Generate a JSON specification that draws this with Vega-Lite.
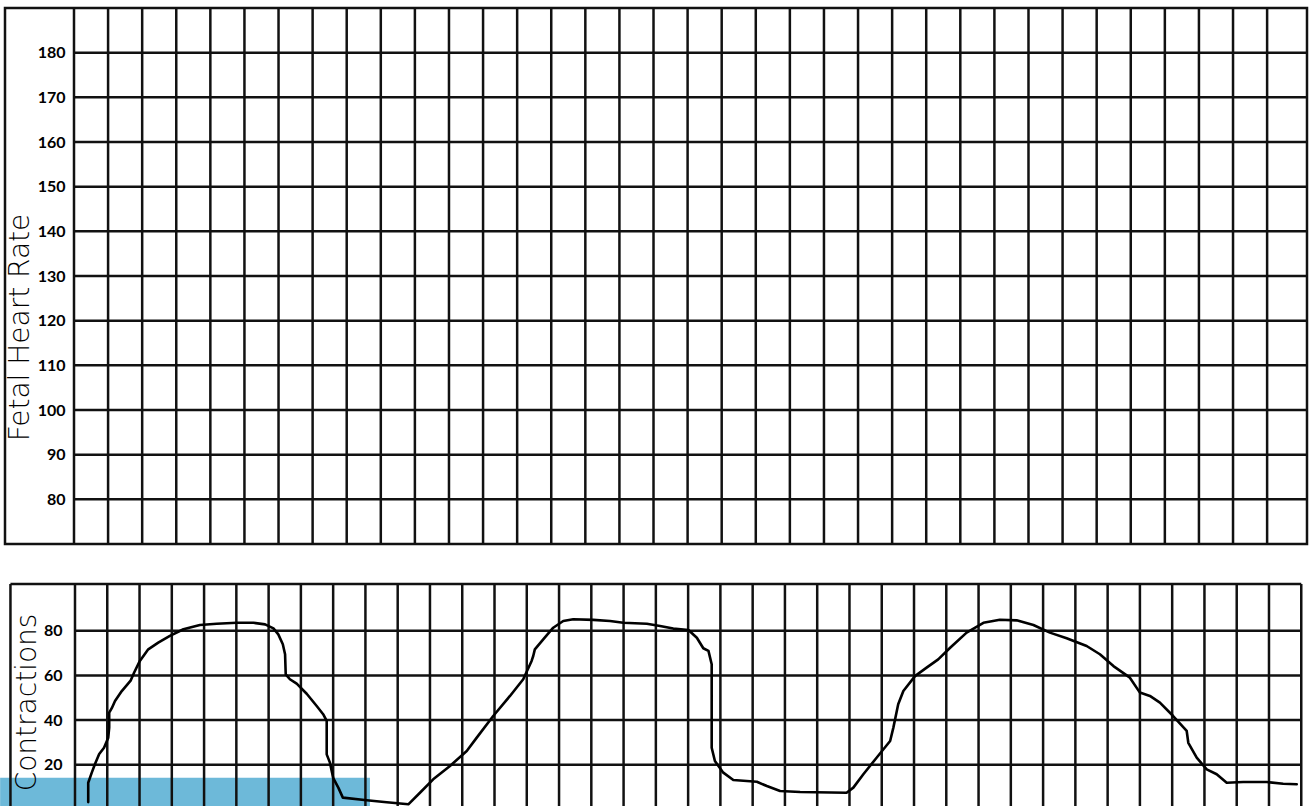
{
  "$schema": "https://vega.github.io/schema/vega-lite/v6.json",
  "padding": {"left": 0, "top": 5, "right": 0, "bottom": 0},
  "background": "white",
  "spacing": 40,
  "bounds": "flush",
  "datasets": {
    "fhrRows": [{"bpm": 80}, {"bpm": 90}, {"bpm": 100}, {"bpm": 110}, {"bpm": 120}, {"bpm": 130}, {"bpm": 140}, {"bpm": 150}, {"bpm": 160}, {"bpm": 170}, {"bpm": 180}],
    "fhrCols": [{"t": 0}, {"t": 1}, {"t": 2}, {"t": 3}, {"t": 4}, {"t": 5}, {"t": 6}, {"t": 7}, {"t": 8}, {"t": 9}, {"t": 10}, {"t": 11}, {"t": 12}, {"t": 13}, {"t": 14}, {"t": 15}, {"t": 16}, {"t": 17}, {"t": 18}, {"t": 19}, {"t": 20}, {"t": 21}, {"t": 22}, {"t": 23}, {"t": 24}, {"t": 25}, {"t": 26}, {"t": 27}, {"t": 28}, {"t": 29}, {"t": 30}, {"t": 31}, {"t": 32}, {"t": 33}, {"t": 34}, {"t": 35}],
    "ctxRows": [{"v": 20}, {"v": 40}, {"v": 60}, {"v": 80}],
    "ctxCols": [{"t": -2}, {"t": 0}, {"t": 1}, {"t": 2}, {"t": 3}, {"t": 4}, {"t": 5}, {"t": 6}, {"t": 7}, {"t": 8}, {"t": 9}, {"t": 10}, {"t": 11}, {"t": 12}, {"t": 13}, {"t": 14}, {"t": 15}, {"t": 16}, {"t": 17}, {"t": 18}, {"t": 19}, {"t": 20}, {"t": 21}, {"t": 22}, {"t": 23}, {"t": 24}, {"t": 25}, {"t": 26}, {"t": 27}, {"t": 28}, {"t": 29}, {"t": 30}, {"t": 31}, {"t": 32}, {"t": 33}, {"t": 34}, {"t": 35}, {"t": 36}, {"t": 37}, {"t": 38}],
    "band": [{"t0": -2.32, "t1": 9.14, "v0": 1, "v1": 14.1}],
    "contractions": [
      {"i": 1, "t": 0.41, "v": 3.2}, {"i": 2, "t": 0.41, "v": 11.9}, {"i": 3, "t": 0.52, "v": 16.4}, {"i": 4, "t": 0.62, "v": 20.3},
      {"i": 5, "t": 0.75, "v": 24.8}, {"i": 6, "t": 0.90, "v": 27.6}, {"i": 7, "t": 1.03, "v": 32.1}, {"i": 8, "t": 1.06, "v": 36.6},
      {"i": 9, "t": 1.06, "v": 43.3}, {"i": 10, "t": 1.14, "v": 45.3}, {"i": 11, "t": 1.24, "v": 48.5}, {"i": 12, "t": 1.45, "v": 53.0},
      {"i": 13, "t": 1.73, "v": 57.8}, {"i": 14, "t": 1.83, "v": 61.2}, {"i": 15, "t": 2.01, "v": 66.5}, {"i": 16, "t": 2.27, "v": 71.7},
      {"i": 17, "t": 2.58, "v": 74.7}, {"i": 18, "t": 2.94, "v": 77.7}, {"i": 19, "t": 3.36, "v": 80.7}, {"i": 20, "t": 3.87, "v": 82.6},
      {"i": 21, "t": 4.39, "v": 83.2}, {"i": 22, "t": 5.01, "v": 83.6}, {"i": 23, "t": 5.53, "v": 83.6}, {"i": 24, "t": 5.89, "v": 82.9},
      {"i": 25, "t": 6.15, "v": 81.1}, {"i": 26, "t": 6.30, "v": 78.4}, {"i": 27, "t": 6.44, "v": 74.0}, {"i": 28, "t": 6.51, "v": 69.5},
      {"i": 29, "t": 6.53, "v": 60.5}, {"i": 30, "t": 6.66, "v": 58.3}, {"i": 31, "t": 6.87, "v": 56.3}, {"i": 32, "t": 7.18, "v": 51.8},
      {"i": 33, "t": 7.49, "v": 46.3}, {"i": 34, "t": 7.69, "v": 42.6}, {"i": 35, "t": 7.80, "v": 39.6}, {"i": 36, "t": 7.80, "v": 24.6},
      {"i": 37, "t": 7.90, "v": 20.9}, {"i": 38, "t": 8.00, "v": 14.1}, {"i": 39, "t": 8.16, "v": 9.7}, {"i": 40, "t": 8.30, "v": 5.2},
      {"i": 41, "t": 9.04, "v": 4.0}, {"i": 42, "t": 9.66, "v": 3.1}, {"i": 43, "t": 10.33, "v": 2.2}, {"i": 44, "t": 10.69, "v": 7.4},
      {"i": 45, "t": 11.10, "v": 13.4}, {"i": 46, "t": 11.62, "v": 19.4}, {"i": 47, "t": 12.14, "v": 26.1}, {"i": 48, "t": 12.45, "v": 32.1},
      {"i": 49, "t": 12.96, "v": 41.8}, {"i": 50, "t": 13.48, "v": 50.8}, {"i": 51, "t": 13.89, "v": 58.3}, {"i": 52, "t": 14.15, "v": 66.5},
      {"i": 53, "t": 14.20, "v": 68.7}, {"i": 54, "t": 14.25, "v": 71.7}, {"i": 55, "t": 14.51, "v": 76.2}, {"i": 56, "t": 14.82, "v": 81.4},
      {"i": 57, "t": 15.13, "v": 84.4}, {"i": 58, "t": 15.44, "v": 85.2}, {"i": 59, "t": 16.06, "v": 84.9}, {"i": 60, "t": 16.58, "v": 84.4},
      {"i": 61, "t": 16.99, "v": 83.6}, {"i": 62, "t": 17.72, "v": 83.2}, {"i": 63, "t": 18.13, "v": 82.2}, {"i": 64, "t": 18.54, "v": 81.0},
      {"i": 65, "t": 19.01, "v": 80.4}, {"i": 66, "t": 19.27, "v": 76.9}, {"i": 67, "t": 19.47, "v": 72.2}, {"i": 68, "t": 19.63, "v": 71.0},
      {"i": 69, "t": 19.73, "v": 65.0}, {"i": 70, "t": 19.73, "v": 27.6}, {"i": 71, "t": 19.83, "v": 21.6}, {"i": 72, "t": 20.09, "v": 16.4},
      {"i": 73, "t": 20.40, "v": 13.1}, {"i": 74, "t": 21.13, "v": 12.3}, {"i": 75, "t": 21.44, "v": 10.4}, {"i": 76, "t": 21.85, "v": 8.2},
      {"i": 77, "t": 22.47, "v": 7.7}, {"i": 78, "t": 23.91, "v": 7.4}, {"i": 79, "t": 24.12, "v": 9.7}, {"i": 80, "t": 24.43, "v": 15.7},
      {"i": 81, "t": 24.84, "v": 23.1}, {"i": 82, "t": 25.26, "v": 30.6}, {"i": 83, "t": 25.36, "v": 36.6}, {"i": 84, "t": 25.51, "v": 47.1},
      {"i": 85, "t": 25.67, "v": 53.0}, {"i": 86, "t": 26.03, "v": 59.7}, {"i": 87, "t": 26.39, "v": 63.5}, {"i": 88, "t": 26.75, "v": 67.2},
      {"i": 89, "t": 27.12, "v": 72.4}, {"i": 90, "t": 27.63, "v": 79.2}, {"i": 91, "t": 28.15, "v": 83.6}, {"i": 92, "t": 28.66, "v": 85.0},
      {"i": 93, "t": 29.18, "v": 84.7}, {"i": 94, "t": 29.70, "v": 82.6}, {"i": 95, "t": 30.21, "v": 79.2}, {"i": 96, "t": 30.73, "v": 76.7},
      {"i": 97, "t": 31.35, "v": 73.2}, {"i": 98, "t": 31.76, "v": 69.5}, {"i": 99, "t": 32.18, "v": 64.2}, {"i": 100, "t": 32.69, "v": 59.0},
      {"i": 101, "t": 33.00, "v": 52.3}, {"i": 102, "t": 33.31, "v": 50.8}, {"i": 103, "t": 33.62, "v": 47.8}, {"i": 104, "t": 34.03, "v": 41.8},
      {"i": 105, "t": 34.45, "v": 35.1}, {"i": 106, "t": 34.50, "v": 29.8}, {"i": 107, "t": 34.76, "v": 23.1}, {"i": 108, "t": 35.07, "v": 17.9},
      {"i": 109, "t": 35.38, "v": 15.7}, {"i": 110, "t": 35.69, "v": 11.9}, {"i": 111, "t": 36.20, "v": 12.2}, {"i": 112, "t": 36.93, "v": 12.2},
      {"i": 113, "t": 37.44, "v": 11.4}, {"i": 114, "t": 37.86, "v": 11.2}
    ]
  },
  "vconcat": [
    {
      "width": 1302,
      "height": 536,
      "view": {"stroke": "#111", "strokeWidth": 2.5},
      "layer": [
        {
          "data": {"name": "fhrRows"},
          "mark": {"type": "rule", "color": "#111", "strokeWidth": 2.5},
          "encoding": {
            "y": {
              "field": "bpm", "type": "quantitative", "title": "Fetal Heart Rate",
              "scale": {"domain": [70, 190], "nice": false, "zero": false},
              "axis": {
                "orient": "left", "offset": -69, "values": [80, 90, 100, 110, 120, 130, 140, 150, 160, 170, 180],
                "domain": false, "ticks": false, "grid": false, "labelPadding": 9,
                "labelFont": "Lato", "labelFontWeight": "bold", "labelFontSize": 16, "labelColor": "#000",
                "titleFont": "DejaVu Sans", "titleFontWeight": 200, "titleFontSize": 28, "titleColor": "#000",
                "titleAngle": -90, "titleAlign": "center", "titleBaseline": "alphabetic", "titleX": -46, "titleY": 319,
                "zindex": 1
              }
            },
            "x": {"datum": 0, "type": "quantitative", "scale": {"domain": [-2.024, 36.17], "nice": false, "zero": false}, "axis": null},
            "x2": {"datum": 36.17}
          }
        },
        {
          "data": {"name": "fhrCols"},
          "mark": {"type": "rule", "color": "#111", "strokeWidth": 2.5},
          "encoding": {
            "x": {"field": "t", "type": "quantitative", "axis": null},
            "y": {"datum": 70, "type": "quantitative", "title": "Fetal Heart Rate"},
            "y2": {"datum": 190}
          }
        }
      ]
    },
    {
      "width": 1302,
      "height": 223,
      "view": {"stroke": null},
      "layer": [
        {
          "data": {"name": "band"},
          "mark": {"type": "rect", "color": "#6DB9D9", "clip": false},
          "encoding": {
            "x": {"field": "t0", "type": "quantitative", "scale": {"domain": [-2.169, 38.178], "nice": false, "zero": false}, "axis": null},
            "x2": {"field": "t1"},
            "y": {
              "field": "v0", "type": "quantitative", "title": "Contractions",
              "scale": {"domain": [1, 101], "nice": false, "zero": false},
              "axis": {
                "orient": "left", "offset": -70, "values": [20, 40, 60, 80],
                "domain": false, "ticks": false, "grid": false, "labelPadding": 13,
                "labelFont": "Lato", "labelFontWeight": "bold", "labelFontSize": 16, "labelColor": "#000",
                "titleFont": "DejaVu Sans", "titleFontWeight": 200, "titleFontSize": 28, "titleColor": "#000",
                "titleAngle": -90, "titleAlign": "center", "titleBaseline": "alphabetic", "titleX": -40, "titleY": 118,
                "zindex": 1
              }
            },
            "y2": {"field": "v1"}
          }
        },
        {
          "data": {"name": "ctxRows"},
          "mark": {"type": "rule", "color": "#111", "strokeWidth": 2.5},
          "encoding": {
            "y": {"field": "v", "type": "quantitative", "title": "Contractions"},
            "x": {"datum": 0, "type": "quantitative"},
            "x2": {"datum": 38}
          }
        },
        {
          "data": {"values": [{"edge": "top"}]},
          "mark": {"type": "rule", "color": "#111", "strokeWidth": 2.5},
          "encoding": {
            "y": {"datum": 101, "type": "quantitative", "title": "Contractions"},
            "x": {"datum": -2, "type": "quantitative"},
            "x2": {"datum": 38}
          }
        },
        {
          "data": {"name": "ctxCols"},
          "mark": {"type": "rule", "color": "#111", "strokeWidth": 2.5},
          "encoding": {
            "x": {"field": "t", "type": "quantitative"},
            "y": {"datum": 1, "type": "quantitative", "title": "Contractions"},
            "y2": {"datum": 101}
          }
        },
        {
          "data": {"name": "contractions"},
          "mark": {"type": "line", "color": "#000", "strokeWidth": 2.6, "strokeJoin": "round", "strokeCap": "round"},
          "encoding": {
            "x": {"field": "t", "type": "quantitative"},
            "y": {"field": "v", "type": "quantitative", "title": "Contractions"},
            "order": {"field": "i", "type": "quantitative"}
          }
        }
      ]
    }
  ]
}
